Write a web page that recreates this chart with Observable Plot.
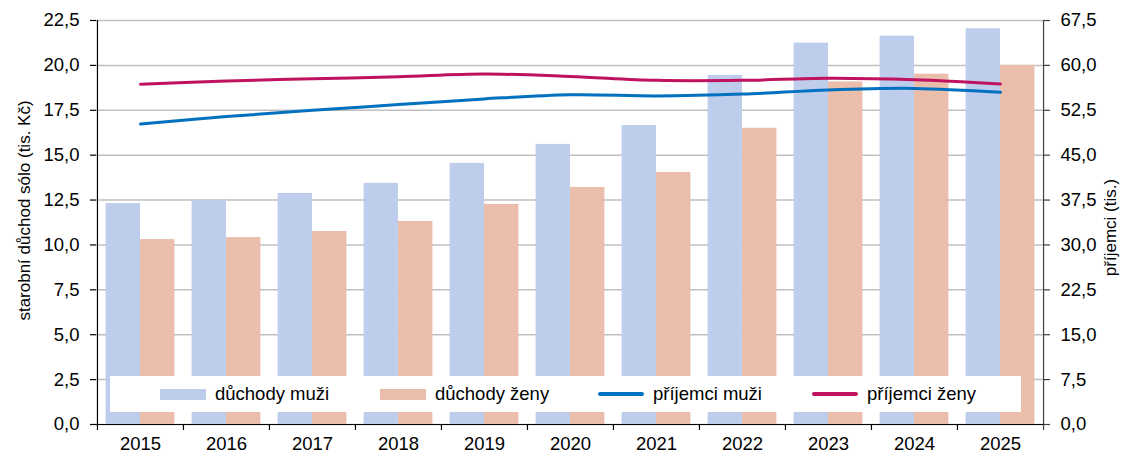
<!DOCTYPE html>
<html><head><meta charset="utf-8">
<script src="https://cdn.jsdelivr.net/npm/d3@7"></script>
<script src="https://cdn.jsdelivr.net/npm/@observablehq/plot@0.6"></script>
<style>
body{margin:0;background:#fff;font-family:Arial,"Liberation Sans",sans-serif;}
#wrap{position:relative;width:1127px;height:452px;}
#legend{position:absolute;left:110px;top:376px;width:911px;height:36px;background:#fff;}
.item{position:absolute;top:0;height:36px;display:flex;align-items:center;font-size:18.5px;color:#000;white-space:nowrap;}
.sw{width:46px;margin-right:9px;}
</style></head><body><div id="wrap"></div>
<script>
const years = ["2015","2016","2017","2018","2019","2020","2021","2022","2023","2024","2025"];
const pensionMen = [12.31,12.48,12.87,13.43,14.54,15.60,16.65,19.44,21.24,21.63,22.04];
const pensionWomen = [10.30,10.41,10.75,11.31,12.26,13.20,14.04,16.50,19.08,19.51,20.00];
const recipientsMen = [50.2,51.45,52.5,53.45,54.4,55.1,54.9,55.2,55.9,56.15,55.5];
const recipientsWomen = [56.85,57.4,57.75,58.1,58.55,58.15,57.5,57.5,57.85,57.6,56.9];
const leftTicks = [0,2.5,5,7.5,10,12.5,15,17.5,20,22.5];
const rightTicks = [0,7.5,15,22.5,30,37.5,45,52.5,60,67.5];
const seriesNames = ["důchody muži","důchody ženy","příjemci muži","příjemci ženy"];
const seriesColors = ["#bdcdeb","#ebbeab","#0070c0","#c0135f"];
const leftTitle = "starobní důchod sólo (tis. Kč)";
const rightTitle = "příjemci (tis.)";

const W = 1127, H = 452, ML = 96, MR = 84, MT = 20, MB = 28;
const step = (W - ML - MR) / years.length;
const ratio = rightTicks[rightTicks.length-1] / leftTicks[leftTicks.length-1];
const fmt = v => v.toFixed(1).replace(".", ",");

const data = years.map((year, i) => ({
  year, pm: pensionMen[i], pw: pensionWomen[i], rm: recipientsMen[i], rw: recipientsWomen[i]
}));

const chart = Plot.plot({
  width: W, height: H,
  marginLeft: ML, marginRight: MR, marginTop: MT, marginBottom: MB,
  style: {fontFamily: "Arial, 'Liberation Sans', sans-serif", fontSize: "18.5px", color: "#000", background: "#fff", overflow: "visible"},
  x: {type: "band", domain: years, padding: 0},
  y: {domain: [0, leftTicks[leftTicks.length-1]]},
  marks: [
    Plot.gridY(leftTicks, {stroke: "#bfbfbf", strokeOpacity: 1, strokeWidth: 1.5}),
    Plot.barY(data, {x: "year", y: "pm", fill: seriesColors[0], insetLeft: step*0.1, insetRight: step*0.5}),
    Plot.barY(data, {x: "year", y: "pw", fill: seriesColors[1], insetLeft: step*0.5, insetRight: step*0.1}),
    Plot.lineY(data, {x: "year", y: d => d.rm / ratio, stroke: seriesColors[2], strokeWidth: 3, curve: "catmull-rom"}),
    Plot.lineY(data, {x: "year", y: d => d.rw / ratio, stroke: seriesColors[3], strokeWidth: 3, curve: "catmull-rom"}),
    Plot.ruleY([0], {stroke: "#000", strokeWidth: 1.2}),
    Plot.ruleX([years[0]], {dx: -step/2, y1: 0, y2: leftTicks[leftTicks.length-1], stroke: "#000", strokeWidth: 1.2}),
    Plot.ruleX([years[years.length-1]], {dx: step/2, y1: 0, y2: leftTicks[leftTicks.length-1], stroke: "#404040", strokeWidth: 1.2}),
    Plot.axisY(leftTicks, {anchor: "left", tickSize: 6, tickPadding: 11, tickFormat: fmt, label: null, stroke: "#000", strokeWidth: 1.2, fontSize: 18.5}),
    Plot.axisY(rightTicks.map(v => v / ratio), {anchor: "right", tickSize: 6, tickPadding: 11, tickFormat: v => fmt(v * ratio), label: null, stroke: "#404040", strokeWidth: 1.2, fontSize: 18.5}),
    Plot.axisX(years, {anchor: "bottom", tickSize: 0, tickPadding: 12, label: null, fontSize: 18.5}),
    Plot.axisX(years, {anchor: "bottom", tickSize: 6, dx: -step/2, tickFormat: () => "", label: null, stroke: "#000", strokeWidth: 1.2}),
    Plot.axisX([years[years.length-1]], {anchor: "bottom", tickSize: 6, dx: step/2, tickFormat: () => "", label: null, stroke: "#404040", strokeWidth: 1.2}),
    Plot.text([leftTitle], {text: d => d, frameAnchor: "left", textAnchor: "middle", lineAnchor: "middle", dx: -72, dy: -12, rotate: -90, fontSize: 17}),
    Plot.text([rightTitle], {text: d => d, frameAnchor: "right", textAnchor: "middle", lineAnchor: "middle", dx: 67, dy: 5, rotate: -90, fontSize: 17})
  ]
});

const wrap = document.getElementById("wrap");
wrap.appendChild(chart);

const legend = document.createElement("div");
legend.id = "legend";
const offsets = [50, 270, 488, 702];
seriesNames.forEach((name, i) => {
  const item = document.createElement("div");
  item.className = "item";
  item.style.left = offsets[i] + "px";
  const sw = document.createElement("span");
  sw.className = "sw";
  sw.style.height = i < 2 ? "11px" : "3.5px";
  sw.style.background = seriesColors[i];
  if (i >= 2) sw.style.borderRadius = "2px";
  const tx = document.createElement("span");
  tx.textContent = name;
  item.appendChild(sw);
  item.appendChild(tx);
  legend.appendChild(item);
});
wrap.appendChild(legend);
</script>
</body></html>
